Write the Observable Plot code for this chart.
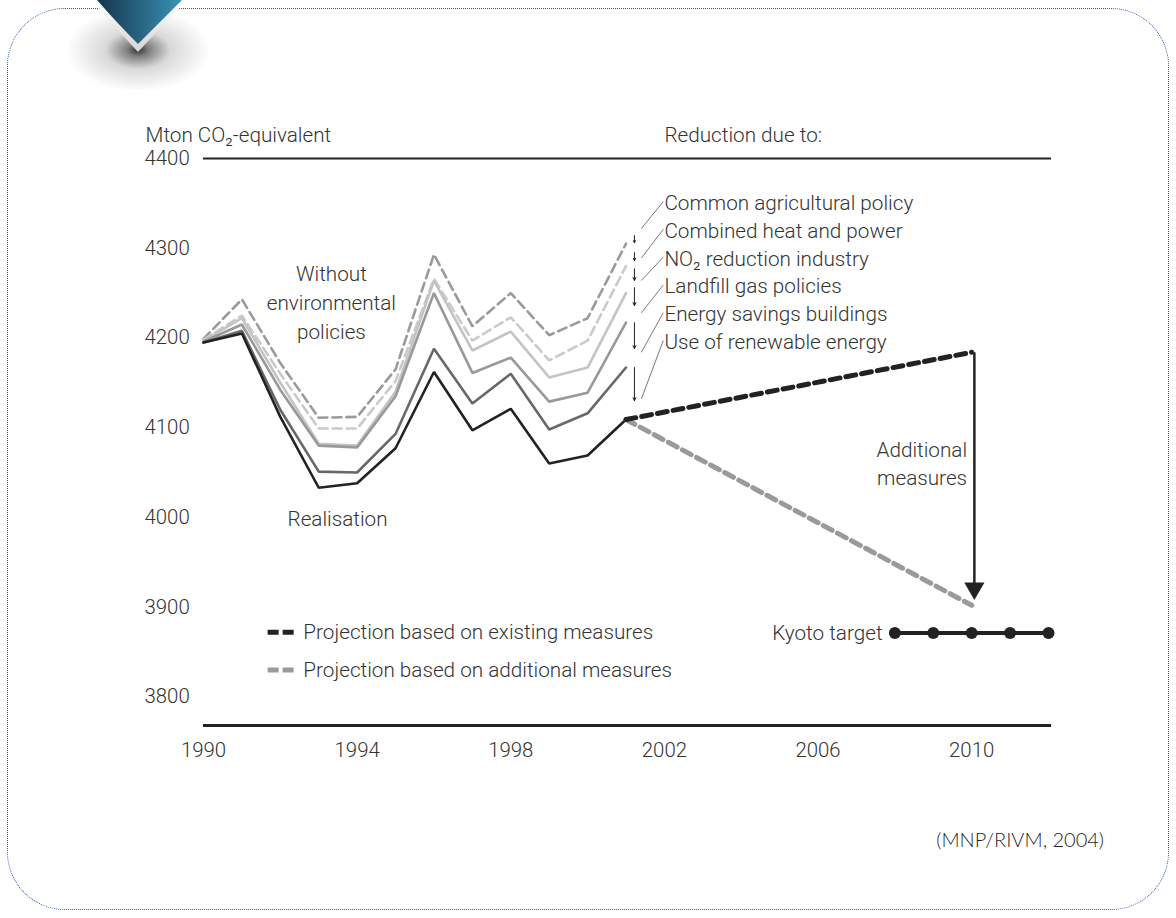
<!DOCTYPE html>
<html>
<head>
<meta charset="utf-8">
<script src="https://cdn.jsdelivr.net/npm/d3@7"></script>
<script src="https://cdn.jsdelivr.net/npm/@observablehq/plot@0.6"></script>
<style>
  html, body { margin: 0; padding: 0; background: #fff; }
  #wrap { position: relative; width: 1176px; height: 918px; overflow: hidden; }
  #frame { position: absolute; left: 7px; top: 8px; width: 1162px; height: 902px;
           border: 1.5px dotted #2f56a0; border-radius: 58px; box-sizing: border-box; }
  #chart { position: absolute; left: 0; top: 0; }
  #deco { position: absolute; left: 0; top: 0; }
  #source { position: absolute; right: 72px; top: 827px; font-family: Lato, "Open Sans", sans-serif;
            font-weight: 300; font-size: 20px; color: #1f1f1f; }
</style>
</head>
<body>
<div id="wrap">
  <div id="frame"></div>
  <svg id="deco" width="260" height="100">
    <defs>
      <radialGradient id="shadow" cx="0.5" cy="0.5" r="0.5">
        <stop offset="0" stop-color="#000" stop-opacity="0.8"/>
        <stop offset="0.15" stop-color="#000" stop-opacity="0.5"/>
        <stop offset="0.45" stop-color="#000" stop-opacity="0.15"/>
        <stop offset="1" stop-color="#000" stop-opacity="0"/>
      </radialGradient>
      <linearGradient id="blue" x1="0" x2="1" y1="0" y2="0">
        <stop offset="0" stop-color="#15344d"/>
        <stop offset="1" stop-color="#3a93b6"/>
      </linearGradient>
      <linearGradient id="bevel" x1="0" x2="0" y1="0" y2="1">
        <stop offset="0" stop-color="#ffffff"/>
        <stop offset="1" stop-color="#d5d5d5"/>
      </linearGradient>
      <clipPath id="cut"><rect x="0" y="12" width="260" height="78"/></clipPath>
    </defs>
    <ellipse cx="138" cy="50" rx="72" ry="42" fill="url(#shadow)" clip-path="url(#cut)"/>
    <path d="M92,0 L186,0 Q160,28 138,52 Q116,28 92,0 Z" fill="url(#bevel)"/>
    <path d="M97,0 L182,0 Q158,24 138,44 Q118,24 97,0 Z" fill="url(#blue)"/>
  </svg>
  <div id="chart"></div>
  <div id="source">(MNP/RIVM, 2004)</div>
</div>
<script>
// ---------------- data ----------------
const years = [1990, 1991, 1992, 1993, 1994, 1995, 1996, 1997, 1998, 1999, 2000, 2001];
const withoutPolicies   = [4199, 4243, 4172, 4111, 4112, 4165, 4293, 4213, 4250, 4203, 4222, 4305];
const lightDashed       = [4198, 4225, 4160, 4099, 4099, 4152, 4266, 4197, 4223, 4175, 4197, 4280];
const lightSolid        = [4197, 4222, 4150, 4082, 4080, 4140, 4264, 4186, 4207, 4156, 4167, 4250];
const mediumSolid       = [4196, 4215, 4142, 4080, 4078, 4135, 4250, 4161, 4178, 4129, 4139, 4217];
const darkSolid         = [4195, 4208, 4120, 4051, 4050, 4093, 4188, 4127, 4160, 4098, 4116, 4167];
const realisation       = [4195, 4205, 4112, 4033, 4038, 4077, 4162, 4097, 4121, 4060, 4069, 4109];

const projYears = [2001, 2010];
const projExisting = [4109, 4184];
const projAdditional = [4109, 3902];

const kyotoYears = [2008, 2009, 2010, 2011, 2012];
const kyotoTarget = [3871, 3871, 3871, 3871, 3871];

const reductionLabels = ["Common agricultural policy", "Combined heat and power", "NO₂ reduction industry",
                         "Landfill gas policies", "Energy savings buildings", "Use of renewable energy"];
const reductionArrowFrom = [4314, 4295, 4277, 4256, 4217, 4167];
const reductionArrowTo   = [4306, 4286, 4264, 4236, 4188, 4130];
const reductionLabelY    = [4350, 4319, 4288, 4257, 4226, 4195];
const leaderFromY        = [4322, 4289, 4264, 4228, 4184, 4132];

const xTicks = [1990, 1994, 1998, 2002, 2006, 2010];
const yTicks = [3800, 3900, 4000, 4100, 4200, 4300, 4400];

const legendLabels = ["Projection based on existing measures", "Projection based on additional measures"];
const legendColors = ["#222", "#9a9a9a"];

// ---------------- build tables ----------------
const seriesDefs = [
  {name: "without", values: withoutPolicies, stroke: "#9a9a9a", dash: "9,5"},
  {name: "lightDashed", values: lightDashed, stroke: "#cacaca", dash: "9,5"},
  {name: "lightSolid", values: lightSolid, stroke: "#c4c4c4", dash: null},
  {name: "medium", values: mediumSolid, stroke: "#999999", dash: null},
  {name: "dark", values: darkSolid, stroke: "#686868", dash: null},
  {name: "realisation", values: realisation, stroke: "#222", dash: null}
];
const seriesMarks = seriesDefs.map(s =>
  Plot.line(years.map((yr, i) => ({year: yr, value: s.values[i]})), {
    x: "year", y: "value", stroke: s.stroke, strokeWidth: 2.6,
    strokeDasharray: s.dash || undefined, strokeLinejoin: "miter"
  })
);
const projExistingData = projYears.map((yr, i) => ({year: yr, value: projExisting[i]}));
const projAdditionalData = projYears.map((yr, i) => ({year: yr, value: projAdditional[i]}));
const kyotoData = kyotoYears.map((yr, i) => ({year: yr, value: kyotoTarget[i]}));

const arrowX = 2001.22;
const reductions = reductionLabels.map((label, i) => ({
  label, from: reductionArrowFrom[i], to: reductionArrowTo[i], labelY: reductionLabelY[i], leaderY: leaderFromY[i]
}));
const legend = legendLabels.map((label, i) => ({label, color: legendColors[i], y: [3872, 3830][i]}));

const font = {fontSize: 20.7, fill: "#333", fontWeight: 300};

const chart = Plot.plot({
  width: 1176,
  height: 918,
  marginTop: 158,
  marginBottom: 193,
  marginLeft: 203,
  marginRight: 128,
  style: {fontFamily: "Roboto, 'Liberation Sans', sans-serif", fontWeight: 300, color: "#333", background: "transparent", overflow: "visible"},
  x: {domain: [1990, 2012], label: null},
  y: {domain: [3768, 4400], label: null},
  marks: [
    Plot.ruleY([4400], {x1: 1990, x2: 2012.08, stroke: "#222", strokeWidth: 2.2}),
    Plot.ruleY([3768], {x1: 1990, x2: 2012.08, stroke: "#222", strokeWidth: 3}),
    Plot.axisX({ticks: xTicks, tickSize: 0, tickPadding: 17, tickFormat: d => String(d), fontSize: 20.4, fontWeight: 300}),
    Plot.axisY({ticks: yTicks, tickSize: 0, textAnchor: "start", dx: -50, fontSize: 20.4, fontWeight: 300, tickFormat: d => String(d)}),
    ...seriesMarks,
    Plot.line(projAdditionalData, {x: "year", y: "value", stroke: "#9a9a9a", strokeWidth: 5, strokeDasharray: "10,6"}),
    Plot.line(projExistingData, {x: "year", y: "value", stroke: "#222", strokeWidth: 5, strokeDasharray: "10,6"}),
    // reduction arrows and leaders
    Plot.arrow(reductions, {x1: arrowX, x2: arrowX, y1: "from", y2: "to", stroke: "#222", strokeWidth: 1, headLength: 5, headAngle: 50}),
    Plot.link(reductions, {x1: d => arrowX + 0.18, y1: "leaderY", x2: 2001.97, y2: d => d.labelY + 2, stroke: "#555", strokeWidth: 0.8}),
    Plot.text(reductions, {x: 2002.0, y: "labelY", text: "label", textAnchor: "start", ...font}),
    // additional measures arrow
    Plot.link([{y1: 4184, y2: 3925}], {x1: 2010.07, x2: 2010.07, y1: "y1", y2: "y2", stroke: "#222", strokeWidth: 2.5}),
    Plot.dot([{v: 3921}], {x: 2010.07, y: "v", symbol: "triangle", r: 7.5, rotate: 180, fill: "#222", stroke: "none"}),
    // Kyoto target
    Plot.line(kyotoData, {x: "year", y: "value", stroke: "#222", strokeWidth: 4}),
    Plot.dot(kyotoData, {x: "year", y: "value", r: 6, fill: "#222"}),
    // annotations
    Plot.text(["Mton CO₂-equivalent"], {x: 1988.49, y: 4426, text: d => d, textAnchor: "start", ...font}),
    Plot.text(["Reduction due to:"], {x: 2002.0, y: 4426, text: d => d, textAnchor: "start", ...font}),
    Plot.text(["Without\nenvironmental\npolicies"], {x: 1993.33, y: 4241, text: d => d, textAnchor: "middle", lineHeight: 1.4, ...font}),
    Plot.text(["Realisation"], {x: 1993.49, y: 3998, text: d => d, textAnchor: "middle", ...font}),
    Plot.text(["Additional\nmeasures"], {x: 2009.88, y: 4062, text: d => d, textAnchor: "end", lineHeight: 1.4, ...font}),
    Plot.text(["Kyoto target"], {x: 2007.68, y: 3871, text: d => d, textAnchor: "end", ...font}),
    // legend
    Plot.link(legend, {x1: 1991.67, x2: 1992.35, y1: "y", y2: "y", stroke: "color", strokeWidth: 5, strokeDasharray: "11,4"}),
    Plot.text(legend, {x: 1992.6, y: "y", text: "label", textAnchor: "start", ...font})
  ]
});
document.getElementById("chart").appendChild(chart);
</script>
</body>
</html>
